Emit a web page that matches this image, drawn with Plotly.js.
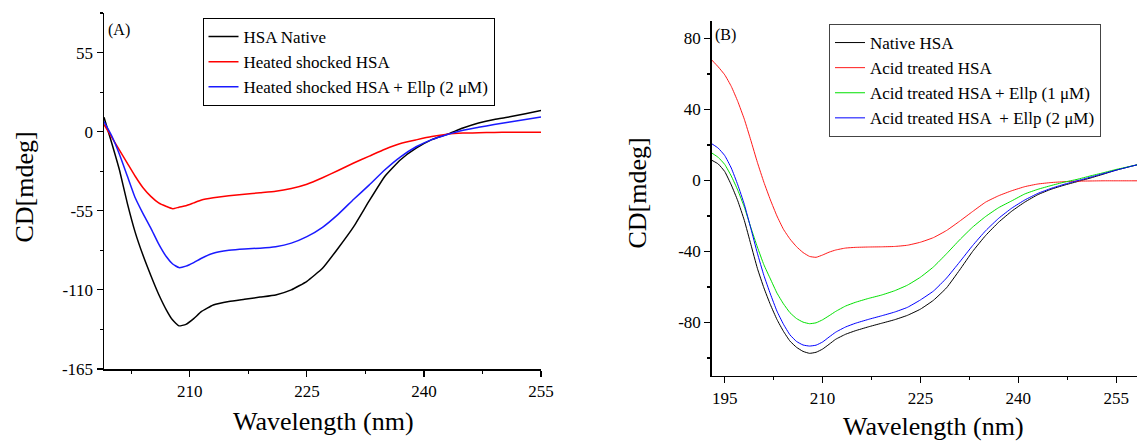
<!DOCTYPE html>
<html>
<head>
<meta charset="utf-8">
<script src="https://cdn.plot.ly/plotly-3.0.1.min.js"></script>
<style>html,body{margin:0;padding:0;background:#fff;}#chart{width:1138px;height:441px;}</style>
</head>
<body>
<div id="chart"></div>
<script>
// ---------- Panel A data (heat shock) ----------
const wavelengthA = [199, 200, 201, 202, 203, 204, 205, 206, 207, 207.8, 208.6, 209.5, 210.5, 211.5, 213, 215, 217, 219, 221, 223, 225, 227, 229, 231, 233, 235, 237, 239, 241, 243, 245, 247, 249, 251, 253, 255];
const hsaNativeA = [10, -8, -27, -50, -70, -86, -100, -113, -124, -131, -135, -134, -130, -125, -120.5, -118, -116.5, -115, -113.5, -110, -104, -95, -81, -66, -48, -31, -19.5, -11.5, -5.5, -1.8, 2.5, 6, 8.5, 10.3, 12.5, 14.8];
const heatedA = [5, -4, -13, -22, -31, -39, -45, -49.5, -52, -53.6, -52.5, -51.5, -49.5, -47.5, -46, -44.5, -43.5, -42.5, -41.5, -39.5, -36.5, -32, -27, -21.8, -17, -12.2, -8.2, -5.7, -3.4, -1.8, -1, -0.7, -0.5, -0.4, -0.4, -0.4];
const heatedEllpA = [7, -3, -16, -31, -46, -57, -67, -78, -87, -92, -94.5, -93.5, -91, -88, -84.5, -82.5, -81.5, -81, -80, -77.5, -73, -66.5, -57.5, -47, -37, -26.5, -17.5, -10.5, -5.5, -2, 1, 3, 5, 6.8, 8.5, 10.2];
const namesA = ["HSA Native", "Heated shocked HSA", "Heated shocked HSA + Ellp (2 μM)"];

// ---------- Panel B data (acid treatment) ----------
const wavelengthB = [193, 194, 195, 196, 197, 198, 199, 200, 201, 202, 203, 204, 205, 206, 207, 208, 209, 210, 211, 212, 213.5, 215, 217, 219, 221, 223, 225, 227, 229, 231, 233, 235, 237, 239, 241, 243, 245, 247, 249, 251, 253, 255, 257, 258.2];
const nativeB = [11.4, 9.3, 5, -2.5, -11.5, -22.5, -36, -49.5, -60.5, -70, -78.3, -85, -90.5, -94, -96.3, -97.4, -96.8, -95, -92.3, -89.5, -86.7, -84.7, -82.5, -80.5, -78.5, -76, -72.5, -67.5, -60.5, -50.5, -40, -31, -23.5, -17.3, -12.2, -8, -5, -2.7, -0.7, 1.3, 3.5, 5.8, 7.7, 8.8];
const acidB = [67.9, 64, 59.5, 53, 44.5, 34.5, 22.6, 10.2, -1, -11, -20, -27.5, -33, -37.3, -40.6, -42.8, -43.3, -42, -40.4, -39.2, -38.1, -37.7, -37.5, -37.4, -37.2, -36.5, -34.8, -32.2, -28.2, -23, -17.5, -12.2, -8.6, -5.8, -3.5, -2, -1.2, -0.7, -0.4, -0.3, -0.2, -0.2, -0.2, -0.2];
const acidEllp1B = [15.5, 13, 9, 2.5, -5.5, -15, -26.5, -37.5, -47.5, -55.5, -63.4, -69.5, -74.5, -77.8, -79.8, -80.7, -80.2, -78.5, -76.2, -73.8, -70.8, -68.7, -66.5, -64.6, -62.2, -59, -54.5, -48.7, -41.3, -33.5, -26.3, -20.3, -15.3, -11.5, -7.6, -5, -2.9, -1, 0.6, 2.5, 4.3, 6.2, 7.8, 8.8];
const acidEllp2B = [20.7, 18.2, 14, 7, -2.5, -13.5, -27, -41, -53.5, -64, -73.6, -81, -87, -90.7, -92.7, -93.3, -92.8, -91, -88.2, -85.5, -82.6, -80.5, -78.3, -76.3, -74.2, -71.5, -67.3, -62.3, -55, -46, -36.7, -28.3, -21.3, -15.6, -11, -7.3, -4.5, -2.2, -0.2, 1.8, 3.8, 5.8, 7.7, 8.8];
const namesB = ["Native HSA", "Acid treated HSA", "Acid treated HSA + Ellp (1 μM)", "Acid treated HSA \u00a0+ Ellp (2 μM)"];

// ---------- tick labels ----------
const xTicksA = [210, 225, 240, 255];
const yTicksA = [55, 0, -55, -110, -165];
const xTicksB = [195, 210, 225, 240, 255];
const yTicksB = [80, 40, 0, -40, -80];
const yLabelsA = ["55", "0", "-55", "-110", "-165"];
const yLabelsB = ["80", "40", "0", "-40", "-80"];

const serif = "Liberation Serif";
const W = 1138, H = 441;

function line(x, y, name, color, width, xa, ya, legend) {
  return {x: x, y: y, name: name, type: 'scatter', mode: 'lines',
    line: {color: color, width: width, shape: 'spline', smoothing: 0.4},
    xaxis: xa, yaxis: ya, legend: legend, hoverinfo: 'skip'};
}

const traces = [
  line(wavelengthA, hsaNativeA, namesA[0], '#000000', 1.5, 'x', 'y', 'legend'),
  line(wavelengthA, heatedA, namesA[1], '#ff0000', 1.5, 'x', 'y', 'legend'),
  line(wavelengthA, heatedEllpA, namesA[2], '#1a1aff', 1.5, 'x', 'y', 'legend'),
  line(wavelengthB, nativeB, namesB[0], '#000000', 1, 'x2', 'y2', 'legend2'),
  line(wavelengthB, acidB, namesB[1], '#ff1a1a', 1, 'x2', 'y2', 'legend2'),
  line(wavelengthB, acidEllp1B, namesB[2], '#00e000', 1, 'x2', 'y2', 'legend2'),
  line(wavelengthB, acidEllp2B, namesB[3], '#0000ff', 1, 'x2', 'y2', 'legend2')
];

const tickfont = {family: serif, size: 17, color: '#000'};
function axis(o) {
  return Object.assign({
    showgrid: false, zeroline: false, showline: true, linecolor: '#000', linewidth: 1.5,
    ticks: 'outside', ticklen: 6, tickwidth: 1.2, tickcolor: '#000',
    tickfont: tickfont, fixedrange: true, tickmode: 'array'
  }, o);
}
function mirror(o) {
  return Object.assign({
    showgrid: false, zeroline: false, showline: true, linecolor: '#000', linewidth: 1.5,
    ticks: 'inside', ticklen: 5, tickwidth: 1.2, tickcolor: '#000',
    showticklabels: false, fixedrange: true, tickmode: 'array'
  }, o);
}

const dA = {x: [104 / W, 541 / W], y: [1 - 369 / H, 1 - 13 / H]};
const dB = {x: [711.7 / W, 1137 / W], y: [1 - 375.7 / H, 1 - 20.7 / H]};
const rA = {x: [199, 255], y: [-165, 82.5]};
const rB = {x: [193, 258.2], y: [-110, 90]};

const layout = {
  width: W, height: H,
  margin: {l: 0, r: 0, t: 0, b: 0},
  paper_bgcolor: '#fff', plot_bgcolor: '#fff',
  font: {family: serif, color: '#000'},
  xaxis: axis({domain: dA.x, anchor: 'y', range: rA.x, tickvals: xTicksA,
    minor: {tickmode: 'linear', tick0: 202.5, dtick: 15, ticks: 'outside', ticklen: 3, tickcolor: '#000'}}),
  yaxis: axis({domain: dA.y, anchor: 'x', range: rA.y, tickvals: yTicksA, ticktext: yLabelsA,
    minor: {tickmode: 'linear', tick0: 27.5, dtick: 55, ticks: 'outside', ticklen: 3, tickcolor: '#000'}}),
  xaxis3: mirror({overlaying: 'x', anchor: 'y', side: 'top', range: rA.x, tickvals: xTicksA,
    minor: {tickmode: 'linear', tick0: 202.5, dtick: 15, ticks: 'inside', ticklen: 3, tickcolor: '#000'}}),
  yaxis3: mirror({overlaying: 'y', anchor: 'x', side: 'right', range: rA.y, tickvals: yTicksA,
    minor: {tickmode: 'linear', tick0: 27.5, dtick: 55, ticks: 'inside', ticklen: 3, tickcolor: '#000'}}),
  xaxis2: axis({domain: dB.x, anchor: 'y2', range: rB.x, tickvals: xTicksB,
    minor: {tickmode: 'linear', tick0: 202.5, dtick: 15, ticks: 'outside', ticklen: 3, tickcolor: '#000'}}),
  yaxis2: axis({domain: dB.y, anchor: 'x2', range: rB.y, tickvals: yTicksB, ticktext: yLabelsB,
    minor: {tickmode: 'linear', tick0: 20, dtick: 40, ticks: 'outside', ticklen: 3, tickcolor: '#000'}}),
  xaxis4: mirror({overlaying: 'x2', anchor: 'y2', side: 'top', range: rB.x, tickvals: xTicksB,
    minor: {tickmode: 'linear', tick0: 202.5, dtick: 15, ticks: 'inside', ticklen: 3, tickcolor: '#000'}}),
  yaxis4: mirror({overlaying: 'y2', anchor: 'x2', side: 'right', range: rB.y, tickvals: yTicksB,
    minor: {tickmode: 'linear', tick0: 20, dtick: 40, ticks: 'inside', ticklen: 3, tickcolor: '#000'}}),
  legend: {x: 202.5 / W, y: 1 - 18 / H, xanchor: 'left', yanchor: 'top',
    bgcolor: '#fff', bordercolor: '#000', borderwidth: 1,
    font: {family: serif, size: 17, color: '#000'}, tracegroupgap: 0},
  legend2: {x: 829 / W, y: 1 - 24 / H, xanchor: 'left', yanchor: 'top',
    bgcolor: '#fff', bordercolor: '#444', borderwidth: 1,
    font: {family: serif, size: 17, color: '#000'}, tracegroupgap: 0},
  annotations: [
    {text: '(A)', xref: 'paper', yref: 'paper', x: 106 / W, y: 1 - 30 / H, xanchor: 'left', yanchor: 'middle', showarrow: false, font: {family: serif, size: 16, color: '#000'}},
    {text: '(B)', xref: 'paper', yref: 'paper', x: 713 / W, y: 1 - 35 / H, xanchor: 'left', yanchor: 'middle', showarrow: false, font: {family: serif, size: 16, color: '#000'}},
    {text: 'Wavelength (nm)', xref: 'paper', yref: 'paper', x: 323.5 / W, y: 1 - 421 / H, xanchor: 'center', yanchor: 'middle', showarrow: false, font: {family: serif, size: 26, color: '#000'}},
    {text: 'Wavelength (nm)', xref: 'paper', yref: 'paper', x: 933 / W, y: 1 - 426 / H, xanchor: 'center', yanchor: 'middle', showarrow: false, font: {family: serif, size: 26, color: '#000'}},
    {text: 'CD[mdeg]', xref: 'paper', yref: 'paper', x: 24 / W, y: 1 - 187.5 / H, xanchor: 'center', yanchor: 'middle', textangle: -90, showarrow: false, font: {family: serif, size: 26, color: '#000'}},
    {text: 'CD[mdeg]', xref: 'paper', yref: 'paper', x: 637 / W, y: 1 - 193.5 / H, xanchor: 'center', yanchor: 'middle', textangle: -90, showarrow: false, font: {family: serif, size: 26, color: '#000'}}
  ],
  showlegend: true
};

Plotly.newPlot('chart', traces, layout, {displayModeBar: false, staticPlot: true});
</script>
</body>
</html>
